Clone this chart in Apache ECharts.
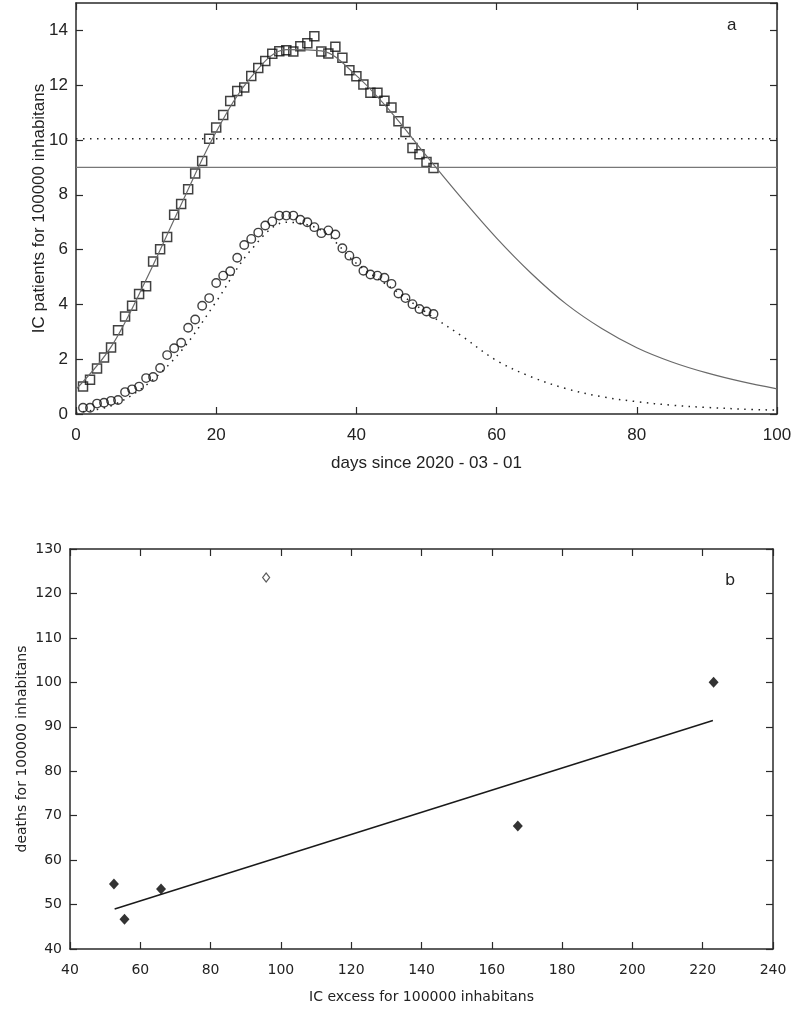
<!DOCTYPE html>
<html>
<head>
<meta charset="utf-8">
<script src="https://cdn.jsdelivr.net/npm/echarts@6/dist/echarts.min.js"></script>
<style>
html,body{margin:0;padding:0;background:#fff;}
#chart{width:795px;height:1009px;}
</style>
</head>
<body>
<div id="chart"></div>
<script>
// ---- Panel a data ----
const daysObs = [1,2,3,4,5,6,7,8,9,10,11,12,13,14,15,16,17,18,19,20,21,22,23,24,25,26,27,28,29,30,31,32,33,34,35,36,37,38,39,40,41,42,43,44,45,46,47,48,49,50,51];
const squaresIC = [1.0,1.25,1.66,2.06,2.43,3.06,3.56,3.95,4.38,4.66,5.57,6.01,6.46,7.27,7.66,8.2,8.78,9.23,10.05,10.46,10.91,11.42,11.79,11.92,12.34,12.63,12.88,13.15,13.24,13.28,13.23,13.42,13.53,13.79,13.23,13.16,13.4,13.0,12.55,12.33,12.03,11.72,11.72,11.43,11.19,10.68,10.29,9.71,9.48,9.2,8.98];
const circlesIC = [0.23,0.23,0.38,0.41,0.48,0.51,0.8,0.9,1.0,1.31,1.35,1.68,2.15,2.4,2.6,3.15,3.45,3.95,4.23,4.78,5.05,5.21,5.7,6.17,6.39,6.62,6.88,7.03,7.24,7.24,7.24,7.09,7.0,6.82,6.6,6.7,6.55,6.05,5.78,5.56,5.23,5.09,5.05,4.97,4.75,4.4,4.23,4.01,3.83,3.74,3.65];
const fitDays = [0,5,10,15,20,25,30,35,40,45,50,55,60,65,70,75,80,85,90,95,100];
const fitSolidVals = [0.9,2.45,4.9,7.65,10.3,12.3,13.3,13.25,12.35,11.0,9.42,7.88,6.42,5.12,4.0,3.12,2.42,1.9,1.5,1.18,0.92];
const fitDotVals = [0.05,0.3,1.05,2.3,4.1,6.0,7.0,6.7,5.5,4.6,3.7,2.85,1.95,1.35,0.92,0.63,0.45,0.32,0.24,0.18,0.14];
const thresholdSolid = 9.0;
const thresholdDotted = 10.05;
const xRangeA = [0, 100];

// ---- Panel b data ----
const icExcess = [52.5, 55.5, 65.9, 167.4, 223.1];
const deaths = [54.6, 46.7, 53.5, 67.7, 100.0];
const outlierExcess = [95.8];
const outlierDeaths = [123.6];
const regX = [52.7, 222.9];
const regY = [49.0, 91.4];

const pair = (xs, ys) => xs.map((x, i) => [x, ys[i]]);

const fontA = '"Liberation Sans Narrow", "Liberation Sans", Arial, sans-serif';
const fontB = '"DejaVu Sans", Verdana, sans-serif';
const axisCol = '#2a2a2a';

function mkAxis(o) {
  return Object.assign({
    nameMoveOverlap: false,
    axisLine: {show: true, onZero: false, lineStyle: {color: axisCol, width: 1.5}},
    axisTick: {show: true, inside: true, length: 7, lineStyle: {color: axisCol, width: 1.2}},
    splitLine: {show: false},
  }, o);
}

const chart = echarts.init(document.getElementById('chart'), null, {renderer: 'canvas'});
chart.setOption({
  backgroundColor: '#fff',
  animation: false,
  grid: [
    {left: 76, top: 3, width: 701, height: 411},
    {left: 70, top: 549, width: 703, height: 400}
  ],
  xAxis: [
    mkAxis({gridIndex: 0, type: 'value', min: 0, max: 100, interval: 20, position: 'bottom',
      name: 'days since 2020 - 03 - 01', nameLocation: 'middle', nameGap: 41,
      nameTextStyle: {fontFamily: fontA, fontSize: 17, color: '#222'},
      axisLabel: {fontFamily: fontA, fontSize: 17, color: '#222', margin: 13}}),
    mkAxis({gridIndex: 0, type: 'value', min: 0, max: 100, interval: 20, position: 'top',
      axisLabel: {show: false}}),
    mkAxis({gridIndex: 1, type: 'value', min: 40, max: 240, interval: 20, position: 'bottom',
      name: 'IC excess for 100000 inhabitans', nameLocation: 'middle', nameGap: 41,
      nameTextStyle: {fontFamily: fontB, fontSize: 14, color: '#222'},
      axisLabel: {fontFamily: fontB, fontSize: 14, color: '#222', margin: 14}}),
    mkAxis({gridIndex: 1, type: 'value', min: 40, max: 240, interval: 20, position: 'top',
      axisLabel: {show: false}})
  ],
  yAxis: [
    mkAxis({gridIndex: 0, type: 'value', min: 0, max: 15, interval: 2, position: 'left',
      name: 'IC patients for 100000 inhabitans', nameLocation: 'middle', nameGap: 28,
      nameTextStyle: {fontFamily: fontA, fontSize: 17, color: '#222'},
      axisLabel: {fontFamily: fontA, fontSize: 17, color: '#222', margin: 8, showMaxLabel: false}}),
    mkAxis({gridIndex: 0, type: 'value', min: 0, max: 15, interval: 2, position: 'right',
      axisLabel: {show: false}}),
    mkAxis({gridIndex: 1, type: 'value', min: 40, max: 130, interval: 10, position: 'left',
      name: 'deaths for 100000 inhabitans', nameLocation: 'middle', nameGap: 41,
      nameTextStyle: {fontFamily: fontB, fontSize: 14, color: '#222'},
      axisLabel: {fontFamily: fontB, fontSize: 14, color: '#222', margin: 8}}),
    mkAxis({gridIndex: 1, type: 'value', min: 40, max: 130, interval: 10, position: 'right',
      axisLabel: {show: false}})
  ],
  graphic: [
    {type: 'text', left: 727, top: 17, style: {text: 'a', font: '17px ' + fontA, fill: '#222'}},
    {type: 'text', left: 725, top: 573, style: {text: 'b', font: '16px ' + fontB, fill: '#222'}}
  ],
  series: [
    {type: 'line', xAxisIndex: 0, yAxisIndex: 0, showSymbol: false, silent: true,
      data: [[xRangeA[0], thresholdSolid], [xRangeA[1], thresholdSolid]],
      lineStyle: {color: '#777', width: 1.2}},
    {type: 'line', xAxisIndex: 0, yAxisIndex: 0, showSymbol: false, silent: true,
      data: [[xRangeA[0], thresholdDotted], [xRangeA[1], thresholdDotted]],
      lineStyle: {color: '#222', width: 1.5, type: [1.5, 5.5]}},
    {type: 'line', xAxisIndex: 0, yAxisIndex: 0, showSymbol: false, smooth: 0.35, silent: true,
      data: pair(fitDays, fitSolidVals),
      lineStyle: {color: '#6a6a6a', width: 1.2}},
    {type: 'line', xAxisIndex: 0, yAxisIndex: 0, showSymbol: false, smooth: 0.35, silent: true,
      data: pair(fitDays, fitDotVals),
      lineStyle: {color: '#222', width: 1.5, type: [1.5, 5.5]}},
    {type: 'scatter', xAxisIndex: 0, yAxisIndex: 0, symbol: 'rect', symbolSize: 9,
      data: pair(daysObs, squaresIC),
      itemStyle: {color: 'rgba(255,255,255,0)', borderColor: '#111', borderWidth: 1.5}},
    {type: 'scatter', xAxisIndex: 0, yAxisIndex: 0, symbol: 'circle', symbolSize: 8.5,
      data: pair(daysObs, circlesIC),
      itemStyle: {color: 'rgba(255,255,255,0)', borderColor: '#111', borderWidth: 1.4}},
    {type: 'line', xAxisIndex: 2, yAxisIndex: 2, showSymbol: false, silent: true,
      data: pair(regX, regY),
      lineStyle: {color: '#1a1a1a', width: 1.5}},
    {type: 'scatter', xAxisIndex: 2, yAxisIndex: 2, symbol: 'diamond', symbolSize: [10, 11],
      data: pair(icExcess, deaths),
      itemStyle: {color: '#000'}},
    {type: 'scatter', xAxisIndex: 2, yAxisIndex: 2, symbol: 'diamond', symbolSize: [7, 9],
      data: pair(outlierExcess, outlierDeaths),
      itemStyle: {color: '#fff', borderColor: '#333', borderWidth: 1.2}}
  ]
});
</script>
</body>
</html>
